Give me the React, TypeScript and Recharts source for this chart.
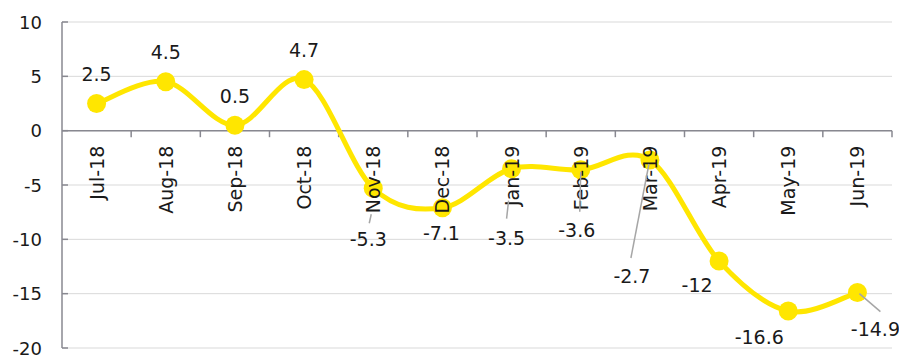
import { LineChart, Line, XAxis, YAxis, CartesianGrid, ReferenceLine, ReferenceDot, LabelList } from 'recharts';

const months = ['Jul-18', 'Aug-18', 'Sep-18', 'Oct-18', 'Nov-18', 'Dec-18', 'Jan-19', 'Feb-19', 'Mar-19', 'Apr-19', 'May-19', 'Jun-19'];
const values = [2.5, 4.5, 0.5, 4.7, -5.3, -7.1, -3.5, -3.6, -2.7, -12, -16.6, -14.9];
const yTicks = [-20, -15, -10, -5, 0, 5, 10];

const data = months.map((month, i) => ({ pos: i, month, value: values[i] }));

// label centre offset from its point, px
const labelOffsets: [number, number][] = [
    [0, -30], [0, -30], [0, -29], [0, -30], [-5, 51], [-1, 25],
    [-5, 69], [-4, 60], [-18, 116], [-22, 24], [-29, 26], [18, 36],
];
// leader lines, relative to the point
const leaders: Record<number, [number, number, number, number]> = {
    4: [-4, 35, -2, 26],
    6: [-5, 50, -3, 32],
    7: [-1, 42, 0, 2],
    8: [-19, 98, -1, 4],
    11: [2, 1, 23, 19],
};

const FONT = 'DejaVu Sans, Verdana, sans-serif';
const YELLOW = '#FFE600';
const AXIS = '#888890';

// Excel style smoothing (Catmull-Rom through the points)
const excelCurve = (context: any) => {
    let pts: [number, number][] = [];
    return {
        areaStart() {},
        areaEnd() {},
        lineStart() { pts = []; },
        lineEnd() {
            if (!pts.length) return;
            context.moveTo(pts[0][0], pts[0][1]);
            for (let i = 0; i < pts.length - 1; i++) {
                const p0 = pts[i - 1] || pts[i];
                const p1 = pts[i];
                const p2 = pts[i + 1];
                const p3 = pts[i + 2] || p2;
                context.bezierCurveTo(
                    p1[0] + (p2[0] - p0[0]) / 6, p1[1] + (p2[1] - p0[1]) / 6,
                    p2[0] - (p3[0] - p1[0]) / 6, p2[1] - (p3[1] - p1[1]) / 6,
                    p2[0], p2[1],
                );
            }
        },
        point(x: number, y: number) { pts.push([x, y]); },
    };
};

const YTick = ({ x, y, payload }: any) => (
    <g>
        <line x1={x} x2={x + 6} y1={y} y2={y} stroke={AXIS} strokeWidth={1.5} />
        <text x={x - 20} y={y} textAnchor="end" dominantBaseline="central" fontSize={18} fontFamily={FONT} fill="#1a1a1a">
            {payload.value}
        </text>
    </g>
);

const ValueLabel = (props: any) => {
    const { x, y, index, value } = props;
    const [dx, dy] = labelOffsets[index];
    const l = leaders[index];
    return (
        <g>
            {l && <line x1={x + l[0]} y1={y + l[1]} x2={x + l[2]} y2={y + l[3]} stroke="#a6a6a6" strokeWidth={1.5} />}
            <text x={x + dx} y={y + dy} textAnchor="middle" dominantBaseline="central" fontSize={19} fontFamily={FONT} fill="#1a1a1a">
                {value}
            </text>
        </g>
    );
};

export default function App() {
    return (
        <div>
            <style>{'html, body { overflow: hidden; }'}</style>
            <LineChart width={899} height={348} data={data} margin={{ top: 14, right: 15, bottom: 8, left: 0 }} style={{ overflow: 'visible' }}>
                <CartesianGrid vertical={false} stroke="#d9d9d9" />
                <XAxis type="number" dataKey="pos" domain={[-0.5, 11.5]} hide />
                <YAxis
                    domain={[-20, 10]}
                    ticks={yTicks}
                    interval={0}
                    width={54}
                    axisLine={{ stroke: AXIS, strokeWidth: 1.5 }}
                    tickLine={false}
                    tickSize={0}
                    tickMargin={0}
                    tick={<YTick />}
                />
                <ReferenceLine y={0} stroke={AXIS} strokeWidth={1.5} />
                {months.map((m, i) => (
                    <ReferenceLine
                        key={'t' + m}
                        segment={[{ x: i + 0.5, y: 0 }, { x: i + 0.5, y: -0.6 }]}
                        stroke={AXIS}
                        strokeWidth={1.5}
                    />
                ))}
                <Line
                    type={excelCurve as any}
                    dataKey="value"
                    stroke={YELLOW}
                    strokeWidth={5}
                    dot={{ r: 9.5, fill: YELLOW, stroke: 'none' }}
                    activeDot={false}
                    isAnimationActive={false}
                >
                    <LabelList dataKey="value" content={<ValueLabel />} />
                </Line>
                {months.map((m, i) => (
                    <ReferenceDot
                        key={m}
                        x={i}
                        y={0}
                        r={1}
                        shape={(p: any) => (
                            <text
                                transform={`translate(${p.cx},${p.cy + 15}) rotate(-90)`}
                                textAnchor="end"
                                dominantBaseline="central"
                                fontSize={19}
                                fontFamily={FONT}
                                fill="#1a1a1a"
                            >
                                {m}
                            </text>
                        )}
                    />
                ))}
            </LineChart>
        </div>
    );
}
